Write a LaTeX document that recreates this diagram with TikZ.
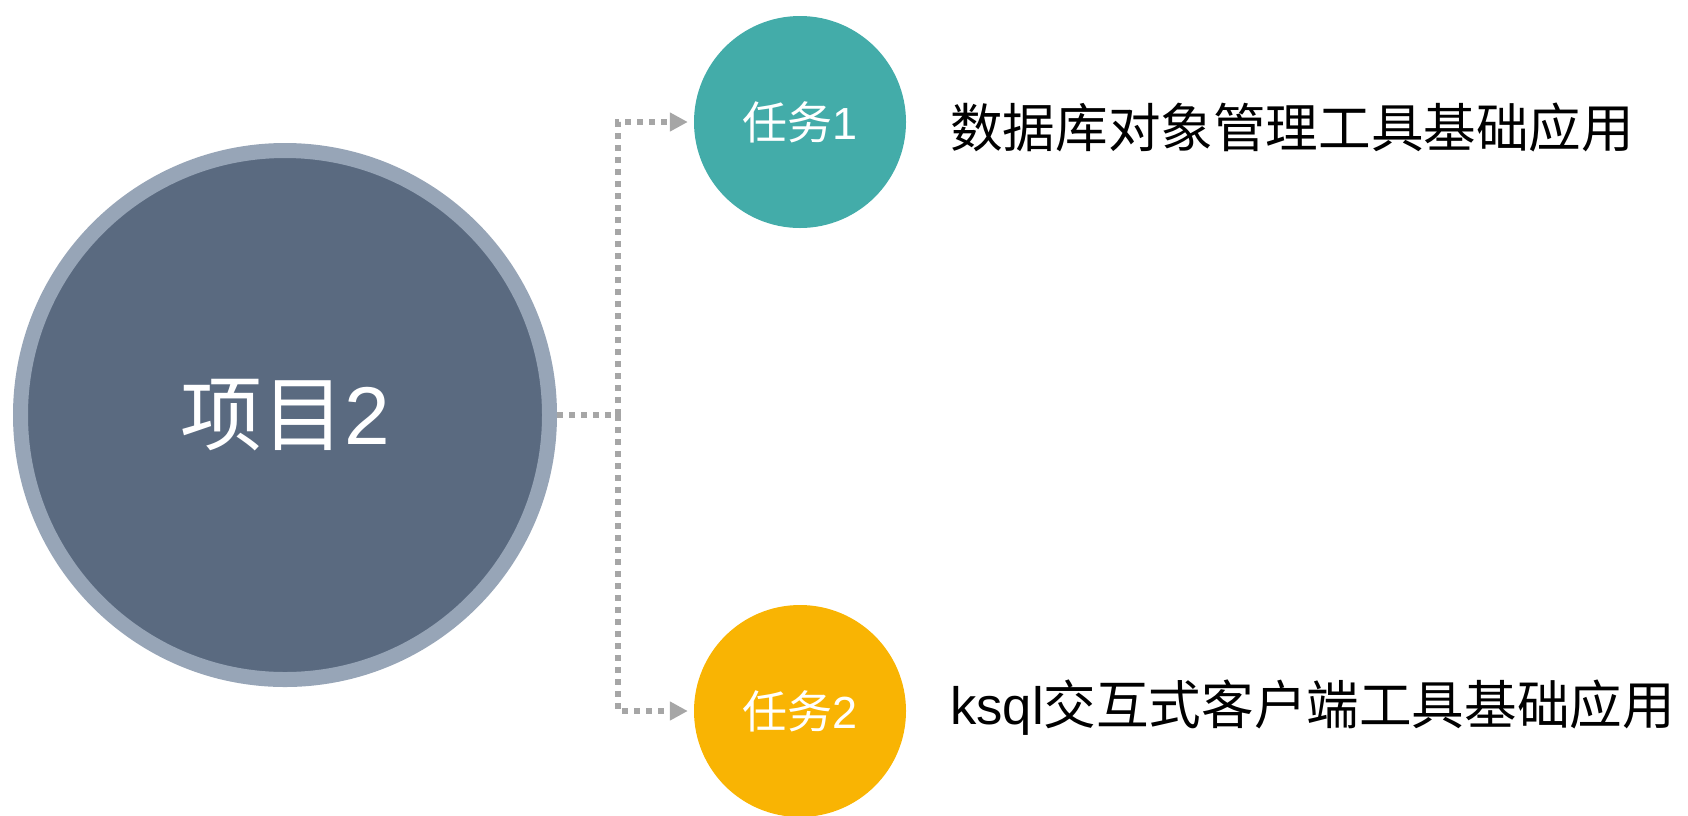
\documentclass[tikz,border=0pt]{standalone}
\usepackage{fontspec}
\setmainfont{Liberation Sans}
\newfontfamily\cjk{Noto Sans CJK SC}
\usetikzlibrary{arrows.meta}
\definecolor{bigfill}{HTML}{5A6A80}
\definecolor{bigring}{HTML}{97A5B7}
\definecolor{teal1}{HTML}{43ACA9}
\definecolor{orange1}{HTML}{F9B403}
\definecolor{conn}{HTML}{A6A6A6}
\tikzset{
  bigcirc/.style={circle, fill=bigfill, draw=bigring, line width=15pt, minimum size=529pt, inner sep=0pt, text=white, font=\fontsize{82}{90}\selectfont},
  taskcirc/.style={circle, minimum size=212pt, inner sep=0pt, text=white, font=\fontsize{45}{50}\selectfont},
  desc/.style={anchor=west, inner sep=0pt, text=black, font=\fontsize{52.6}{60}\selectfont},
  connline/.style={draw=conn, line width=6pt, dash pattern=on 6pt off 6pt},
  arr/.style={-{Triangle[length=18pt,width=18pt]}, shorten >=6pt}
}
\begin{document}
\begin{tikzpicture}[x=1pt,y=-1pt]
\useasboundingbox (0,0) rectangle (1688,815);
\node[bigcirc] (big) at (285,415) {{\cjk 项目}2};
\node[taskcirc, fill=teal1] (t1) at (800,122) {{\cjk 任务}1};
\node[taskcirc, fill=orange1] (t2) at (800,711) {{\cjk 任务}2};
\node[desc] (l1) at (950,127) {\cjk 数据库对象管理工具基础应用};
\node[desc] (l2) at (950,708) {ksql{\cjk 交互式客户端工具基础应用}};
\coordinate (j) at (618,415);
\draw[connline] (big.east) -- (j);
\draw[connline, arr] (j) |- (t1.west);
\draw[connline, arr] (j) |- (t2.west);
\end{tikzpicture}
\end{document}
